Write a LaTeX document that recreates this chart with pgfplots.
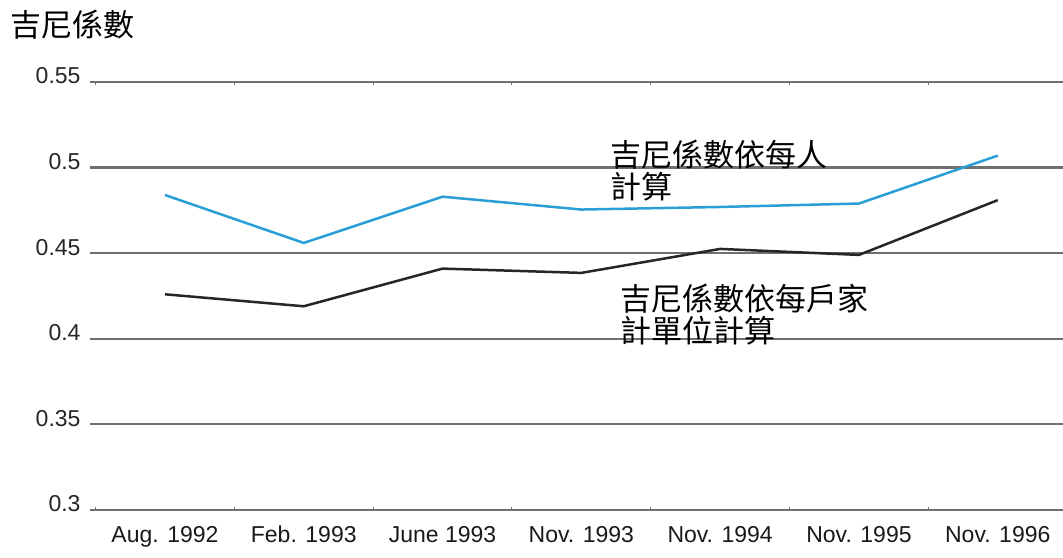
\documentclass[border=0pt]{standalone}
\usepackage{fontspec}
\setmainfont{Liberation Sans}
\newfontfamily\cjk{Noto Sans CJK TC}
\usepackage{pgfplots}
\pgfplotsset{compat=1.18}
\definecolor{bluel}{HTML}{2A9FD6}
\definecolor{gridc}{HTML}{707070}
\begin{document}
\begin{tikzpicture}
\useasboundingbox (0,0) rectangle (1063bp,558bp);
\node[anchor=north west, inner sep=0pt, font=\cjk\fontsize{31bp}{33bp}\selectfont] at (10bp,548bp) {吉尼係數};
\begin{axis}[
  at={(90bp,48bp)}, anchor=south west,
  scale only axis, width=973bp, height=428bp,
  xmin=-0.54, xmax=6.47, ymin=0.3, ymax=0.55,
  axis line style={draw=none},
  xtick={0,1,2,3,4,5,6},
  xticklabels={Aug. 1992, Feb. 1993, June 1993, Nov. 1993, Nov. 1994, Nov. 1995, Nov. 1996},
  major x tick style={draw=none},
  minor xtick={-0.5,0.5,1.5,2.5,3.5,4.5,5.5},
  minor x tick style={draw=gridc, line width=1bp},
  minor tick length=3bp,
  ytick={0.3,0.35,0.4,0.45,0.5,0.55},
  y tick style={draw=none},
  ymajorgrids, major grid style={draw=gridc, line width=2.2bp},
  yticklabel style={/pgf/number format/fixed, /pgf/number format/precision=2, font=\fontsize{23bp}{26bp}\selectfont, xshift=-6bp, yshift=6bp, text=black!85},
  xticklabel style={font=\fontsize{23bp}{26bp}\selectfont, text height=17bp, text depth=5bp, yshift=-12bp, text=black!90},
  /pgf/number format/assume math mode=true,
  clip=false,
]
\addplot[color=bluel, line width=2.5bp] coordinates {
 (0,0.484) (1,0.456) (2,0.483) (3,0.4755) (4,0.477) (5,0.479) (6,0.507)};
\addplot[color=black!85, line width=2.5bp] coordinates {
 (0,0.426) (1,0.419) (2,0.441) (3,0.4385) (4,0.4525) (5,0.449) (6,0.481)};
\node[anchor=north west, inner sep=0pt, align=left, font=\cjk\fontsize{31bp}{32bp}\selectfont] at (axis cs:3.206,0.5165) {吉尼係數依每人\\計算};
\node[anchor=north west, inner sep=0pt, align=left, font=\cjk\fontsize{31bp}{32bp}\selectfont] at (axis cs:3.278,0.432) {吉尼係數依每戶家\\計單位計算};
\end{axis}
\end{tikzpicture}
\end{document}
